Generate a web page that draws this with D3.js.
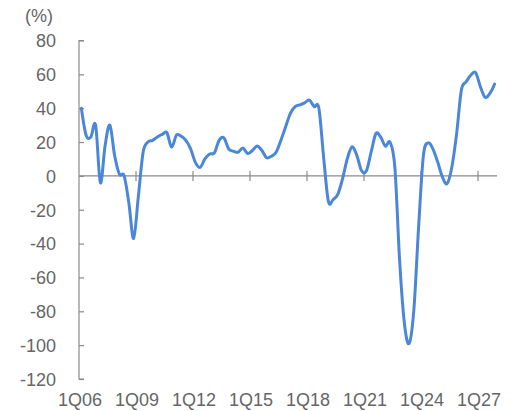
<!DOCTYPE html>
<html>
<head>
<meta charset="utf-8">
<script src="https://cdn.jsdelivr.net/npm/d3@7"></script>
<style>
  html, body { margin: 0; padding: 0; background: #fff; }
  svg { display: block; }
</style>
</head>
<body>
<svg id="chart" width="512" height="411"></svg>
<script>
// ---- data ----
const startYear = 2006;
const nQuarters = 88; // 1Q06 .. 4Q27
const categories = [];
for (let i = 0; i < nQuarters; i++) {
  const yr = startYear + Math.floor(i / 4);
  categories.push((i % 4 + 1) + "Q" + String(yr % 100).padStart(2, "0"));
}
const values = [
  40, 24, 23, 30, -4, 18, 30, 12, 1, 0,
  -16, -37, -12, 14, 20, 21, 23, 24.5, 25.5, 17,
  24, 23.5, 21, 16, 8, 5, 10, 13, 13.6, 21,
  22.5, 16, 14.6, 14, 16.5, 13.2, 15, 17.6, 15, 10.7,
  11.6, 14, 21, 29, 37, 41, 42, 43.2, 44.8, 41,
  40, 11, -15, -14, -10.8, -1.5, 10.3, 17.2, 12, 3,
  3, 14, 25, 23, 17.6, 19.8, 5, -50, -87, -99,
  -79, -30, 12, 19.5, 16, 8.3, -0.6, -4.5, 5.3, 25,
  50.7, 55.6, 59.6, 61, 52.7, 46.4, 48.8, 54.3
];
const xTickLabels = ["1Q06", "1Q09", "1Q12", "1Q15", "1Q18", "1Q21", "1Q24", "1Q27"];
const yTicks = [80, 60, 40, 20, 0, -20, -40, -60, -80, -100, -120];
const unitLabel = "(%)";

// ---- layout ----
const svg = d3.select("#chart");
const plotLeft = 79, plotRight = 497, plotTop = 40.5, plotBottom = 379;
const axisColor = "#8a8a8a";
const textColor = "#666666";
const font = "'Liberation Sans', Arial, sans-serif";

const x = d3.scalePoint().domain(categories).range([plotLeft, plotRight]).padding(0.5);
const y = d3.scaleLinear().domain([-120, 80]).range([plotBottom, plotTop]);
const step = x.step();

// unit label
svg.append("text")
  .attr("x", 25).attr("y", 22)
  .attr("font-family", font).attr("font-size", 18)
  .attr("fill", textColor)
  .text(unitLabel);

// y axis
const yAxis = d3.axisRight(y).tickValues(yTicks).tickSize(5).tickFormat(d => d);
const gy = svg.append("g").attr("transform", `translate(${plotLeft},0)`).call(yAxis);
gy.select(".domain").attr("stroke", axisColor).attr("stroke-width", 1.2)
  .attr("d", `M5,${plotTop}H0V${plotBottom}H5`);
gy.selectAll(".tick line").attr("stroke", axisColor).attr("stroke-width", 1.2);
gy.selectAll(".tick text")
  .attr("x", -23).attr("text-anchor", "end").attr("dy", "0.35em")
  .attr("font-family", font).attr("font-size", 18).attr("fill", textColor);

// x axis at zero line
const zeroY = y(0);
svg.append("line")
  .attr("x1", plotLeft).attr("x2", plotRight)
  .attr("y1", zeroY).attr("y2", zeroY)
  .attr("stroke", axisColor).attr("stroke-width", 1.2);
const boundary = c => x(c) - step / 2;
svg.append("g").selectAll("line")
  .data(xTickLabels.slice(1))
  .join("line")
  .attr("x1", d => boundary(d)).attr("x2", d => boundary(d))
  .attr("y1", zeroY - 5).attr("y2", zeroY + 5)
  .attr("stroke", axisColor).attr("stroke-width", 1.2);

// x labels
svg.append("g").selectAll("text")
  .data(xTickLabels)
  .join("text")
  .attr("x", d => boundary(d) + 1)
  .attr("y", 406)
  .attr("text-anchor", "middle")
  .attr("font-family", font).attr("font-size", 18).attr("fill", textColor)
  .text(d => d);

// line
const line = d3.line()
  .x((d, i) => x(categories[i]))
  .y(d => y(d))
  .curve(d3.curveCardinal.tension(0));
svg.append("path")
  .datum(values)
  .attr("d", line)
  .attr("fill", "none")
  .attr("stroke", "#4a87d8")
  .attr("stroke-width", 3)
  .attr("stroke-linejoin", "round")
  .attr("stroke-linecap", "round");
</script>
</body>
</html>
